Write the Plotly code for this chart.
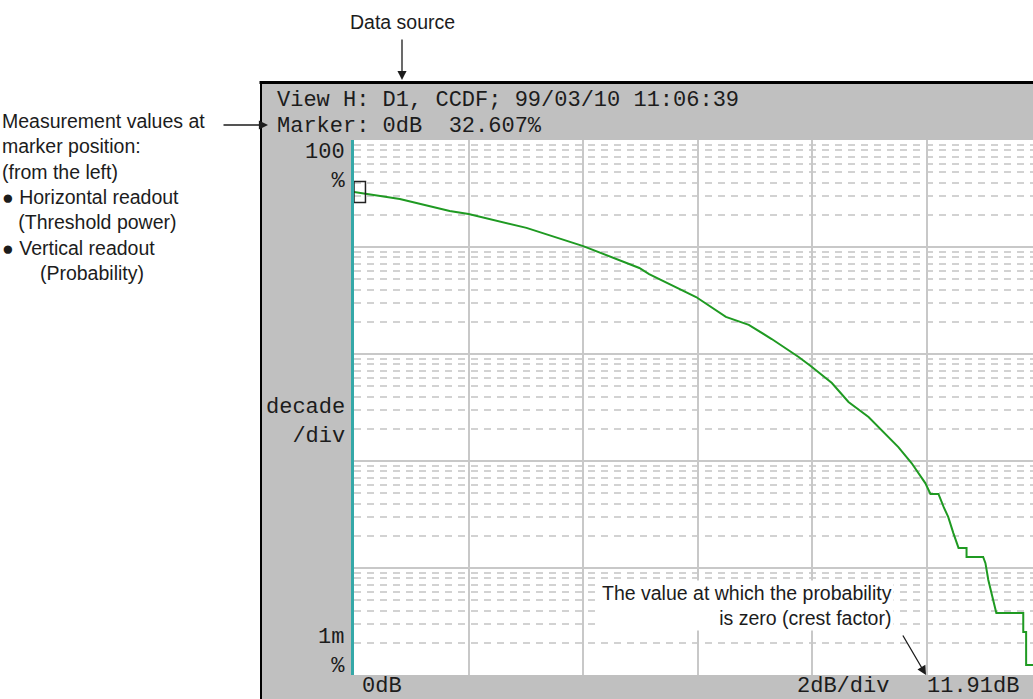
import plotly.graph_objects as go

# ---- data (threshold power in dB, probability in %) ----
power_db = [0.00, 0.80, 1.67, 2.00, 3.01, 4.00, 4.98, 5.15, 5.97, 6.49, 6.89, 7.29,
            7.76, 7.97, 8.34, 8.63, 8.98, 9.50, 9.73, 9.97, 10.06, 10.20, 10.29,
            10.37, 10.46, 10.55, 10.69, 10.69, 10.98, 11.02, 11.07, 11.16, 11.21,
            11.68, 11.68, 11.73, 11.73, 11.91]
probability_pct = [32.6, 28.1, 21.7, 20.3, 15.1, 10.2, 6.37, 5.59, 3.41, 2.22, 1.87,
                   1.38, 0.938, 0.773, 0.536, 0.356, 0.258, 0.135, 0.0957, 0.0622,
                   0.0492, 0.0492, 0.0372, 0.0300, 0.0212, 0.0154, 0.0154, 0.0127,
                   0.0127, 0.0111, 0.00773, 0.00502, 0.00379, 0.00379, 0.00252,
                   0.00252, 0.00124, 0.00124]

marker_db = 0.0
marker_pct = 32.607
crest_factor_db = 11.91

header_line = "View H: D1, CCDF; 99/03/10 11:06:39"
marker_line = "Marker: 0dB  32.607%"
y_top_label = "100<br>%"
y_mid_label = "decade<br>/div"
y_bot_label = "1m<br>%"
x_left_label = "0dB"
x_scale_label = "2dB/div"
x_right_label = "11.91dB"

NB = "\u00a0"
left_notes = ["Measurement values at", "marker position:", "(from the left)",
              "\u25cf Horizontal readout", NB * 3 + "(Threshold power)",
              "\u25cf Vertical readout", NB * 7 + "(Probability)"]
bottom_notes = ["The value at which the probability", "is zero (crest factor)"]

# ---- geometry helpers (pixels -> paper) ----
W, H = 1033, 699
L, R, T, B = 354, 1033, 140, 675
PX_PER_DB = 57.3


def px(x):
    return (x - L) / (R - L)


def py(y):
    return (B - y) / (B - T)


MONO = "Liberation Mono, DejaVu Sans Mono, monospace"
SANS = "Liberation Sans, Arial, sans-serif"
MONO_SIZE = 22
TXT = "#1c1c1c"

fig = go.Figure()
fig.add_trace(go.Scatter(x=power_db, y=probability_pct, mode="lines",
                         line=dict(color="#1f9a22", width=2),
                         hoverinfo="skip", showlegend=False))

shapes = [
    dict(type="rect", xref="paper", yref="paper", x0=px(261), x1=px(1045),
         y0=py(710), y1=py(82), fillcolor="#c0c0c0", line=dict(width=0), layer="below"),
    dict(type="rect", xref="paper", yref="paper", x0=0, x1=1, y0=0, y1=1,
         fillcolor="white", line=dict(width=0), layer="below"),
    dict(type="line", xref="paper", yref="paper", x0=px(259.5), x1=px(1045),
         y0=py(82.5), y1=py(82.5), line=dict(color="black", width=3)),
    dict(type="line", xref="paper", yref="paper", x0=px(261), x1=px(261),
         y0=py(81), y1=py(710), line=dict(color="black", width=2)),
    # marker box
    dict(type="rect", xref="x", yref="y", x0=marker_db, x1=marker_db + 0.2,
         y0=marker_pct / 10 ** (10.5 / 107), y1=marker_pct * 10 ** (10.5 / 107),
         line=dict(color="#222222", width=1.5), fillcolor="rgba(0,0,0,0)"),
]

ann = []


def mono(text, x, y, anchor="left"):
    ann.append(dict(text=text, xref="paper", yref="paper", x=px(x), y=py(y),
                    xanchor=anchor, yanchor="middle", align=anchor, showarrow=False,
                    font=dict(family=MONO, size=MONO_SIZE, color=TXT)))


mono(header_line, 275, 100)
mono(marker_line, 275, 127)
mono(y_top_label, 347, 166.5, "right")
mono(y_mid_label, 347, 421.5, "right")
mono(y_bot_label, 347, 651.5, "right")
mono(x_left_label, 360, 686)
mono(x_scale_label, 795, 686)
mono(x_right_label, 925, 686)

ann.append(dict(text="<br>".join(left_notes), xref="paper", yref="paper",
                x=px(0), y=py(196.5), xanchor="left", yanchor="middle", align="left",
                showarrow=False, font=dict(family=SANS, size=19.5, color=TXT)))

ann.append(dict(text="Data source", xref="paper", yref="paper", x=px(402), y=py(22),
                xanchor="center", yanchor="middle", showarrow=False,
                font=dict(family=SANS, size=19.5, color=TXT)))

ann.append(dict(text="<br>".join(bottom_notes), xref="paper", yref="paper",
                x=px(894), y=py(605.5), xanchor="right", yanchor="middle", align="right",
                showarrow=False, bgcolor="white", borderpad=1,
                font=dict(family=SANS, size=19.5, color=TXT)))

# arrows
for (x0, y0, x1, y1) in [(402, 38, 402, 80), (222, 125, 268, 125), (902, 634, 926, 675)]:
    ann.append(dict(text="", xref="paper", yref="paper", x=px(x1), y=py(y1),
                    ax=x0 - x1, ay=y0 - y1, axref="pixel", ayref="pixel",
                    showarrow=True, arrowhead=2, arrowsize=1.4, arrowwidth=1.3,
                    arrowcolor="#1c1c1c", standoff=0))

fig.update_layout(
    width=W, height=H,
    margin=dict(l=L, r=W - R, t=T, b=H - B, pad=0),
    paper_bgcolor="white", plot_bgcolor="white",
    shapes=shapes, annotations=ann, showlegend=False,
    xaxis=dict(range=[0, (R - L) / PX_PER_DB], dtick=2, tick0=0,
               showgrid=True, gridcolor="#c8c8c8", gridwidth=2,
               showticklabels=False, ticks="", zeroline=False, showline=False,
               fixedrange=True),
    yaxis=dict(type="log", range=[-3, 2], dtick=1,
               showgrid=True, gridcolor="#c8c8c8", gridwidth=2,
               minor=dict(dtick="D1", showgrid=True, gridcolor="#d2d2d2",
                          gridwidth=1.5, griddash="7px,6px", ticks=""),
               showticklabels=False, ticks="", zeroline=False,
               showline=True, linecolor="#35a8a8", linewidth=2.5,
               fixedrange=True),
)

fig.write_html("out.html",
               config={"displayModeBar": False},
               post_script="document.body.style.margin='0';"
                           "document.body.style.overflow='hidden';")
